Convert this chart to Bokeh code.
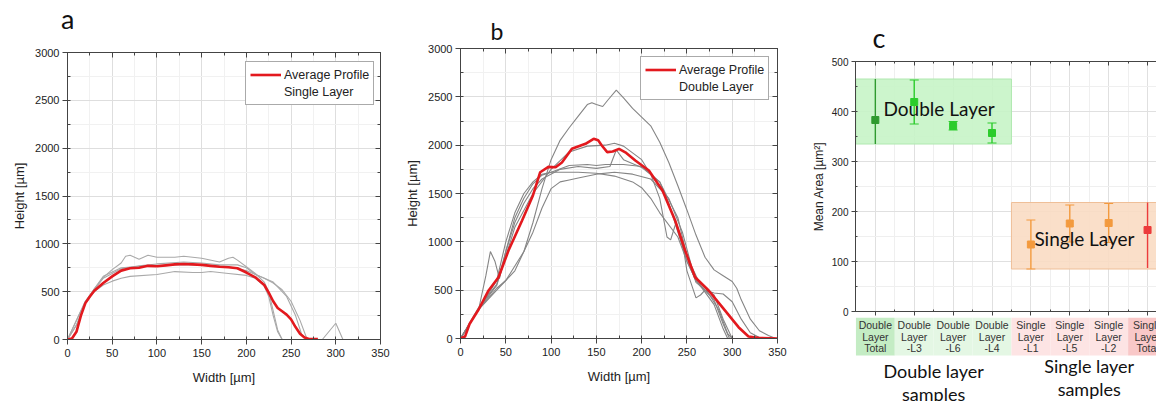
from bokeh.plotting import figure
from bokeh.models import (Range1d, SingleIntervalTicker, FixedTicker, LinearAxis, Legend,
                          LegendItem, Div)
from bokeh.layouts import row, column
from bokeh.embed import file_html
from bokeh.resources import INLINE
from bokeh.core.properties import value

# ---------------- data: panel a (single layer profiles) ----------------
a_avg_x = [0, 5, 10, 15, 20, 25, 30, 40, 50, 60, 70, 80, 90, 100, 110, 120, 130, 140, 150, 160,
           170, 180, 190, 200, 210, 220, 225, 230, 235, 240, 245, 250, 255, 260, 265, 270, 280]
a_avg_y = [0, 10, 80, 250, 380, 450, 510, 590, 660, 720, 745, 750, 770, 765, 775, 785, 790, 785,
           780, 770, 760, 755, 745, 700, 650, 570, 490, 400, 330, 295, 260, 210, 130, 60, 20, 5, 5]

a_g1_x = [0, 10, 20, 30, 40, 50, 60, 65, 70, 80, 90, 100, 120, 130, 150, 170, 180, 185, 190, 200,
          210, 220, 225, 230, 235, 240]
a_g1_y = [0, 150, 380, 530, 650, 730, 800, 870, 880, 840, 880, 860, 860, 870, 850, 810, 850, 860,
          830, 760, 690, 600, 500, 300, 100, 0]
a_g2_x = [0, 10, 20, 30, 40, 50, 60, 70, 100, 120, 140, 150, 160, 180, 200, 210, 220, 225, 230,
          235, 240]
a_g2_y = [0, 150, 380, 500, 570, 610, 640, 660, 680, 710, 700, 700, 710, 690, 670, 640, 560, 450,
          250, 80, 0]
a_g3_x = [0, 20, 40, 60, 80, 100, 130, 150, 170, 190, 200, 210, 220, 230, 240, 250, 260, 268]
a_g3_y = [0, 400, 640, 740, 770, 790, 810, 800, 780, 780, 750, 680, 640, 590, 520, 400, 200, 0]
a_g4_x = [0, 20, 40, 60, 90, 120, 150, 180, 200, 215, 230, 245, 255, 262, 268, 285, 300, 308, 330]
a_g4_y = [0, 400, 660, 750, 770, 780, 780, 760, 720, 660, 600, 450, 250, 50, 0, 0, 170, 0, 0]

# ---------------- data: panel b (double layer profiles) ----------------
b_avg_x = [0, 5, 10, 20, 31, 42, 53, 68, 80, 88, 97, 105, 112, 123, 138, 147, 152, 156, 162, 168,
           175, 183, 193, 208, 223, 237, 248, 259, 274, 289, 307, 318, 330, 350]
b_avg_y = [0, 20, 150, 300, 497, 634, 910, 1221, 1480, 1720, 1775, 1772, 1820, 1962, 2014, 2066,
           2050, 1997, 1928, 1935, 1962, 1920, 1841, 1738, 1531, 1221, 910, 634, 497, 324, 117,
           20, 5, 0]

b_g1_x = [0, 20, 40, 50, 60, 70, 80, 90, 100, 110, 120, 130, 140, 145, 150, 157, 163, 172, 180,
          190, 200, 210, 220, 230, 240, 250, 260, 270, 280, 290, 300, 305, 310, 320, 330, 340, 348]
b_g1_y = [0, 300, 520, 600, 700, 900, 1200, 1550, 1850, 2050, 2180, 2300, 2420, 2440, 2420, 2400,
          2470, 2570, 2490, 2380, 2290, 2200, 2030, 1820, 1580, 1330, 1070, 840, 710, 650, 590,
          520, 400, 200, 80, 30, 0]
b_g2_x = [0, 20, 28, 33, 38, 43, 50, 60, 70, 80, 90, 100, 120, 140, 150, 160, 180, 200, 220, 230,
          240, 250, 260, 270, 280, 290, 300]
b_g2_y = [0, 300, 650, 900, 800, 620, 900, 1250, 1450, 1600, 1690, 1720, 1790, 1800, 1790, 1800,
          1800, 1780, 1620, 1400, 1100, 800, 600, 500, 450, 200, 0]
b_g3_x = [0, 20, 40, 50, 60, 80, 100, 120, 140, 160, 170, 180, 200, 210, 220, 228, 232, 238, 245,
          250, 260, 265, 270, 280, 290, 297]
b_g3_y = [0, 300, 550, 850, 1150, 1500, 1750, 1930, 1990, 2000, 2020, 1990, 1850, 1700, 1450, 1050,
          1020, 1200, 1000, 700, 420, 450, 500, 400, 150, 0]
b_g4_x = [0, 20, 40, 50, 60, 70, 80, 90, 100, 110, 120, 130, 150, 170, 190, 210, 230, 245, 255,
          265, 275, 285, 295, 300]
b_g4_y = [0, 300, 500, 600, 750, 900, 1100, 1350, 1550, 1620, 1640, 1660, 1700, 1720, 1700, 1650,
          1450, 1100, 750, 550, 450, 300, 50, 0]
b_g5_x = [0, 20, 40, 50, 60, 70, 80, 90, 100, 130, 150, 170, 190, 200, 210, 220, 240, 250, 260,
          270, 280, 290, 295]
b_g5_y = [0, 300, 600, 1000, 1300, 1500, 1620, 1700, 1720, 1720, 1710, 1680, 1620, 1560, 1450,
          1300, 1050, 800, 600, 480, 350, 100, 0]
b_g6_x = [0, 20, 40, 50, 60, 70, 80, 90, 110, 130, 150, 165, 172, 180, 200, 220, 240, 250, 260,
          270, 280, 290, 300, 310, 320, 330]
b_g6_y = [0, 320, 560, 900, 1200, 1400, 1550, 1650, 1750, 1780, 1760, 1780, 1950, 1850, 1770,
          1620, 1250, 850, 580, 500, 470, 460, 380, 200, 60, 10]

# ---------------- data: panel c (mean area) ----------------
categories = ["Double Layer Total", "Double Layer -L3", "Double Layer -L6", "Double Layer -L4",
              "Single Layer -L1", "Single Layer -L5", "Single Layer -L2", "Single Layer Total"]
mean_area = [383, 419, 371, 357, 134, 176, 177, 163]
err_upper = [465, 463, 380, 377, 183, 213, 216, 218]
err_lower = [335, 375, 363, 337, 85, 139, 138, 87]
group_names = ["Double Layer", "Single Layer"]
group_labels = ["Double layer samples", "Single layer samples"]
group_members = [[0, 1, 2, 3], [4, 5, 6, 7]]

# ---------------- styles ----------------
H = 401
AXF = "Liberation Sans"
BIGF = "Lato"
RED = "#e3191e"
INK = "#222222"


def style_axis(ax, lab_size="11px", title_size="13px"):
    ax.axis_line_color = "#444444"
    ax.major_tick_line_color = "#444444"
    ax.minor_tick_line_color = "#444444"
    ax.major_tick_out = 5
    ax.major_tick_in = 0
    ax.minor_tick_out = 0
    ax.minor_tick_in = 3
    ax.major_label_text_font = AXF
    ax.major_label_text_font_size = lab_size
    ax.major_label_text_color = INK
    ax.axis_label_text_font = AXF
    ax.axis_label_text_font_size = title_size
    ax.axis_label_text_font_style = "normal"
    ax.axis_label_text_color = INK


def blank_axis(ticker):
    return LinearAxis(ticker=ticker, major_label_text_font_size="0px", major_label_standoff=0,
                      major_label_text_color=None,
                      major_tick_in=5, major_tick_out=0, minor_tick_in=3, minor_tick_out=0,
                      axis_line_color="#444444", major_tick_line_color="#444444",
                      minor_tick_line_color="#444444")


def style_title(p, letter, size, offset, standoff):
    p.title.text = letter
    p.title.text_font = BIGF
    p.title.text_font_size = size
    p.title.text_font_style = "normal"
    p.title.text_color = "#111111"
    p.title.align = "left"
    p.title.offset = offset
    p.title.standoff = standoff


def profile_fig(width, height, bl, br, bt, bb, letter, letter_size, letter_off, letter_standoff,
                avg_x, avg_y, greys, grey_color, legend_label, legend_loc):
    p = figure(width=width, height=height, x_range=Range1d(0, 350), y_range=Range1d(0, 3000),
               output_backend="svg", toolbar_location=None, frame_align=False,
               min_border_left=bl, min_border_right=br, min_border_top=bt, min_border_bottom=bb,
               outline_line_color="#444444", outline_line_width=1)
    if letter:
        style_title(p, letter, letter_size, letter_off, letter_standoff)
    xt = SingleIntervalTicker(interval=50, num_minor_ticks=2)
    yt = SingleIntervalTicker(interval=500, num_minor_ticks=2)
    p.xaxis.ticker = xt
    p.yaxis.ticker = yt
    p.xgrid.ticker = xt
    p.ygrid.ticker = yt
    for g in (p.xgrid, p.ygrid):
        g.grid_line_color = "#dedede"
        g.minor_grid_line_color = "#f1f1f1"
    p.xaxis.axis_label = "Width [µm]"
    p.yaxis.axis_label = "Height [µm]"
    style_axis(p.xaxis[0])
    style_axis(p.yaxis[0])
    p.xaxis.major_label_standoff = 4
    p.yaxis.major_label_standoff = 3
    p.xaxis.axis_label_standoff = 10
    p.yaxis.axis_label_standoff = 5
    p.add_layout(blank_axis(SingleIntervalTicker(interval=50, num_minor_ticks=2)), "above")
    p.add_layout(blank_axis(SingleIntervalTicker(interval=500, num_minor_ticks=2)), "right")

    for gx, gy in greys:
        p.line(gx, gy, line_color=grey_color, line_width=1.1)
    r_avg = p.line(avg_x, avg_y, line_color=RED, line_width=2.6)
    r_dummy = p.line([0], [0], line_alpha=0)
    leg = Legend(items=[LegendItem(label="Average Profile", renderers=[r_avg]),
                        LegendItem(label=legend_label, renderers=[r_dummy])],
                 location=legend_loc, orientation="vertical",
                 border_line_color="#555555", border_line_width=1,
                 background_fill_color="white", background_fill_alpha=1,
                 padding=4, spacing=0, margin=0, label_height=17, glyph_height=17,
                 glyph_width=31, label_standoff=3,
                 label_text_font=AXF, label_text_font_size="12.5px", label_text_color=INK)
    p.add_layout(leg)
    return p


# panel a: letter drawn in a small header above the figure
A_HEAD = 34
head_a = Div(text='<div style="padding:5px 0 0 61px;font-family:Lato;font-size:27px;'
                  'line-height:27px;color:#111111;">a</div>',
             width=400, height=A_HEAD, margin=0)
pa = profile_fig(400, H - A_HEAD, 67, 20, 52 - A_HEAD, 62, None, None, 0, 0, a_avg_x, a_avg_y,
                 [(a_g1_x, a_g1_y), (a_g2_x, a_g2_y), (a_g3_x, a_g3_y), (a_g4_x, a_g4_y)],
                 "#a9a9a9", "Single Layer", (178, 234))
pb = profile_fig(395, H, 60, 18, 48, 63, "b", "23px", 30, 8, b_avg_x, b_avg_y,
                 [(b_g1_x, b_g1_y), (b_g2_x, b_g2_y), (b_g3_x, b_g3_y), (b_g4_x, b_g4_y),
                  (b_g5_x, b_g5_y), (b_g6_x, b_g6_y)],
                 "#858585", "Double Layer", (180, 238))

# ---------------- panel c ----------------
n = len(categories)
xs = list(range(1, n + 1))
xr = Range1d(0.49, 8.23)
PC_H = 317
pc = figure(width=361, height=PC_H, x_range=xr, y_range=Range1d(0, 500),
            output_backend="svg", toolbar_location=None, frame_align=False,
            min_border_left=60, min_border_right=0, min_border_top=61, min_border_bottom=6,
            outline_line_color=None)
style_title(pc, "c", "27px", 17, 15)
cat_ticker = FixedTicker(ticks=xs, minor_ticks=[i - 0.5 for i in xs] + [n + 0.5])
y_ticker = SingleIntervalTicker(interval=100, num_minor_ticks=2)
pc.xaxis.ticker = cat_ticker
pc.xgrid.ticker = cat_ticker
pc.yaxis.ticker = y_ticker
pc.ygrid.ticker = y_ticker
for g in (pc.xgrid, pc.ygrid):
    g.grid_line_color = "#e0e0e0"
    g.minor_grid_line_color = "#efefef"
style_axis(pc.xaxis[0], "0px")
style_axis(pc.yaxis[0], "10px", "12px")
pc.xaxis.major_label_text_color = None
pc.xaxis.major_label_standoff = 0
pc.xaxis.major_tick_out = 4
pc.xaxis.minor_tick_in = 2
pc.yaxis.major_tick_out = 4
pc.yaxis.minor_tick_in = 2
pc.yaxis.major_label_standoff = 3
pc.yaxis.axis_label = "Mean Area [µm²]"
pc.yaxis.axis_label_standoff = 3
top_c = blank_axis(FixedTicker(ticks=xs, minor_ticks=[i - 0.5 for i in xs] + [n + 0.5]))
top_c.major_tick_in = 4
top_c.minor_tick_in = 2
pc.add_layout(top_c, "above")

box_fill = ["#c6f4c6", "#f9dbc3"]
box_line = ["#b0e8b0", "#efbf98"]
for gi, members in enumerate(group_members):
    lo = min(err_lower[i] for i in members)
    hi = max(err_upper[i] for i in members)
    pc.quad(left=[xs[members[0]] - 0.5], right=[xs[members[-1]] + 0.5], bottom=[lo], top=[hi],
            fill_color=box_fill[gi], fill_alpha=0.9, line_color=box_line[gi], line_width=1)

pt_colors = ["#2f9a2f", "#2ccc2c", "#2ccc2c", "#2ccc2c", "#f39a3e", "#f39a3e", "#f39a3e", "#ec3b3b"]
cap_sizes = [0, 9, 9, 9, 9, 9, 9, 0]
pc.segment(x0=xs, y0=err_lower, x1=xs, y1=err_upper, line_color=pt_colors, line_width=1.4)
pc.scatter(xs, err_upper, marker="dash", size=cap_sizes, line_color=pt_colors, line_width=1.2)
pc.scatter(xs, err_lower, marker="dash", size=cap_sizes, line_color=pt_colors, line_width=1.2)
pc.scatter(xs, mean_area, marker="square", size=7, fill_color=pt_colors, line_color=pt_colors)

pc.text(x=[1.21, 5.09], y=[406, 146], text=group_names, text_font=value(BIGF),
        text_font_size=value("19px"), text_color="#111111", text_align="left",
        text_baseline="middle")

# ---------------- category label strip (below panel c) ----------------
STRIP_H = H - PC_H
strip = figure(width=361, height=STRIP_H, x_range=xr, y_range=Range1d(STRIP_H, 0),
               output_backend="svg", toolbar_location=None, frame_align=False,
               x_axis_location=None, y_axis_location=None, outline_line_color=None,
               min_border=0, min_border_left=60, min_border_right=0,
               min_border_top=0, min_border_bottom=0)
strip.xgrid.visible = False
strip.ygrid.visible = False
strip_fill = ["#c4ecc4", "#e4f7e4", "#e4f7e4", "#e4f7e4", "#fde4e4", "#fde4e4", "#fde4e4", "#f9c8c8"]
strip.quad(left=[x - 0.5 for x in xs], right=[x + 0.5 for x in xs],
           bottom=[38] * n, top=[0] * n, fill_color=strip_fill, line_color=None)
parts = [c.split(" ") for c in categories]
for k, off in enumerate([7, 19, 30]):
    strip.text(x=xs, y=[off] * n, text=[pp[k] for pp in parts], text_font=value(AXF),
               text_font_size=value("10.5px"), text_color="#333333", text_align="center",
               text_baseline="middle")
gx = [sum(xs[i] for i in m) / len(m) for m in group_members]
line_offsets = [[53, 76], [48, 71]]
for gi in range(len(group_labels)):
    w = group_labels[gi].split(" ")
    strip.text(x=[gx[gi]] * 2, y=line_offsets[gi],
               text=[w[0] + " " + w[1], w[2]], text_font=value(BIGF), text_font_size=value("18px"),
               text_color="#111111", text_align="center", text_baseline="middle")

layout = row(column(head_a, pa), pb, column(pc, strip))
open("out.html", "w").write(file_html(layout, INLINE))
